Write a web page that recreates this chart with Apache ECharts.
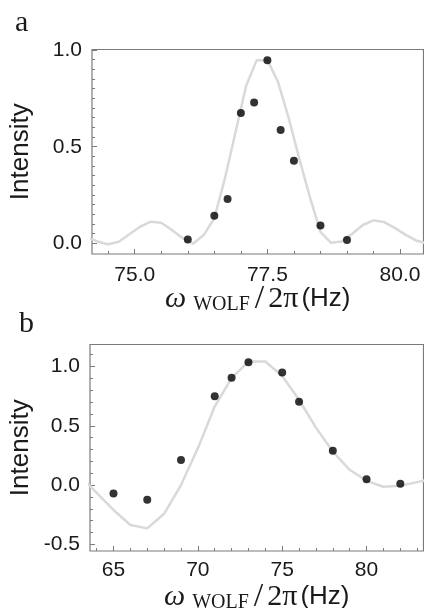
<!DOCTYPE html>
<html>
<head>
<meta charset="utf-8">
<script src="https://cdn.jsdelivr.net/npm/echarts@6/dist/echarts.min.js"></script>
<style>
  html, body { margin: 0; padding: 0; background: #fff; }
  #wolfChart { width: 424px; height: 608px; }
</style>
</head>
<body>
<div id="wolfChart"></div>
<script>
// panel a - measured points and fit
var aDotX = [76.0, 76.5, 76.75, 77.0, 77.25, 77.5, 77.75, 78.0, 78.5, 79.0];
var aDotY = [0.02, 0.143, 0.23, 0.674, 0.729, 0.948, 0.587, 0.427, 0.093, 0.018];
var aFitX = [74.1, 74.3, 74.5, 74.7, 74.9, 75.1, 75.3, 75.5, 75.7, 75.9, 76.1, 76.3, 76.5, 76.7, 76.9,
             77.1, 77.3, 77.5, 77.7, 77.9, 78.1, 78.3, 78.5, 78.7, 78.9, 79.1, 79.3, 79.5, 79.7, 79.9,
             80.1, 80.3, 80.5];
var aFitY = [0.03, 0.01, -0.005, 0.008, 0.047, 0.086, 0.112, 0.107, 0.069, 0.028, -0.002, 0.043, 0.13, 0.336, 0.575,
             0.815, 0.948, 0.948, 0.836, 0.65, 0.44, 0.24, 0.06, 0.003, 0.01, 0.05, 0.095, 0.119, 0.11, 0.08,
             0.045, 0.015, 0.0];
var aXTicks = [75.0, 77.5, 80.0];
var aYTicks = [0.0, 0.5, 1.0];

// panel b
var bDotX = [65, 67, 69, 71, 72, 73, 75, 76, 78, 80, 82];
var bDotY = [-0.07, -0.123, 0.211, 0.75, 0.905, 1.037, 0.949, 0.702, 0.29, 0.049, 0.011];
var bFitX = [63, 64, 65, 66, 67, 68, 69, 70, 71, 72, 73, 74, 75, 76, 77, 78, 79, 80, 81, 82, 83, 84];
var bFitY = [0.08, -0.065, -0.21, -0.337, -0.365, -0.242, 0.0, 0.31, 0.663, 0.902, 1.042, 1.042, 0.92, 0.72,
             0.485, 0.283, 0.129, 0.036, -0.014, -0.006, 0.025, 0.056];
var bXTicks = [65, 70, 75, 80];
var bYTicks = [-0.5, 0.0, 0.5, 1.0];

function steps(from, to, step) {
  var out = [];
  for (var v = from; v <= to + 1e-9; v += step) out.push(+v.toFixed(3));
  return out;
}
function pairs(xs, ys) {
  return xs.map(function (x, i) { return [x, ys[i]]; });
}

var frameColor = '#7a7a7a';
var ink = '#1a1a1a';
var titleRich = {
  w: { fontFamily: 'Liberation Serif', fontStyle: 'italic', fontSize: 30, color: ink, padding: [0, 1, 0, 0], lineHeight: 34 },
  s: { fontFamily: 'Liberation Serif', fontSize: 20, color: ink, padding: [12, 5, 0, 6], lineHeight: 34 },
  sl: { fontFamily: 'Liberation Serif', fontSize: 34, color: ink, padding: [0, 4, 0, 0], lineHeight: 34 },
  n: { fontFamily: 'Liberation Serif', fontSize: 30, color: ink, padding: [0, 3, 0, 0], lineHeight: 34 },
  h: { fontFamily: 'Liberation Sans', fontSize: 26, color: ink, lineHeight: 34 }
};

function majorAxis(grid, pos, min, max, ticks, digits, margin, extra) {
  var ax = {
    type: 'value', gridIndex: grid, position: pos, min: min, max: max,
    nameMoveOverlap: false,
    axisLine: { show: false, onZero: false },
    splitLine: { show: false },
    axisTick: { inside: true, length: 5, customValues: ticks, lineStyle: { color: frameColor, width: 1 } },
    axisLabel: {
      customValues: ticks, margin: margin, color: ink, fontSize: 21, fontFamily: 'Liberation Sans',
      formatter: function (v) { return v.toFixed(digits); }
    }
  };
  for (var k in extra) ax[k] = extra[k];
  return ax;
}
function minorAxis(grid, pos, min, max, ticks) {
  return {
    type: 'value', gridIndex: grid, position: pos, min: min, max: max,
    axisLine: { show: false, onZero: false }, splitLine: { show: false }, axisLabel: { show: false },
    axisTick: { inside: true, length: 3, customValues: ticks, lineStyle: { color: frameColor, width: 1 } }
  };
}

var xTitle = {
  name: '{w|ω}{s|WOLF}{sl|/}{n|2π}{h|(Hz)}',
  nameLocation: 'middle',
  nameTextStyle: { rich: titleRich }
};
var yTitle = {
  name: 'Intensity', nameLocation: 'middle', nameRotate: 90,
  nameTextStyle: { fontFamily: 'Liberation Sans', fontSize: 26, color: ink }
};

var option = {
  animation: false,
  backgroundColor: '#fff',
  grid: [
    { left: 92, top: 49.5, right: 0.5, height: 204.5, show: true, borderColor: frameColor, borderWidth: 1.2,
      outerBoundsMode: 'none', containLabel: false },
    { left: 90, top: 344.5, right: 0.5, height: 206.5, show: true, borderColor: frameColor, borderWidth: 1.2,
      outerBoundsMode: 'none', containLabel: false }
  ],
  xAxis: [
    majorAxis(0, 'bottom', 74.195, 80.442, aXTicks, 1, 11, Object.assign({ nameGap: 28 }, xTitle)),
    minorAxis(0, 'bottom', 74.195, 80.442, steps(74.5, 80.0, 0.5)),
    majorAxis(1, 'bottom', 63.607, 83.376, bXTicks, 0, 9, Object.assign({ nameGap: 29 }, xTitle)),
    minorAxis(1, 'bottom', 63.607, 83.376, steps(64, 83, 1))
  ],
  yAxis: [
    majorAxis(0, 'left', -0.055, 1.003, aYTicks, 1, 10, Object.assign({ nameGap: 58 }, yTitle)),
    minorAxis(0, 'left', -0.055, 1.003, steps(0, 1, 0.05)),
    majorAxis(1, 'left', -0.556, 1.186, bYTicks, 1, 10, Object.assign({ nameGap: 56 }, yTitle)),
    minorAxis(1, 'left', -0.556, 1.186, steps(-0.5, 1.1, 0.1))
  ],
  graphic: [
    { type: 'text', left: 15, top: 8, style: { text: 'a', font: '30px "Liberation Serif"', fill: ink } },
    { type: 'text', left: 19, top: 309, style: { text: 'b', font: '30px "Liberation Serif"', fill: ink } }
  ],
  series: [
    {
      type: 'line', xAxisIndex: 0, yAxisIndex: 0, data: pairs(aFitX, aFitY), symbol: 'none', clip: true,
      lineStyle: { color: '#d9d9d9', width: 2.5 }, z: 1
    },
    {
      type: 'scatter', xAxisIndex: 0, yAxisIndex: 0, data: pairs(aDotX, aDotY), symbolSize: 8,
      itemStyle: { color: '#000' }, z: 3
    },
    {
      type: 'line', xAxisIndex: 2, yAxisIndex: 2, data: pairs(bFitX, bFitY), symbol: 'none', clip: true,
      lineStyle: { color: '#d9d9d9', width: 2.5 }, z: 1
    },
    {
      type: 'scatter', xAxisIndex: 2, yAxisIndex: 2, data: pairs(bDotX, bDotY), symbolSize: 8,
      itemStyle: { color: '#000' }, z: 3
    }
  ]
};
var wolfChart = echarts.init(document.getElementById('wolfChart'));
wolfChart.setOption(option);
</script>
</body>
</html>
